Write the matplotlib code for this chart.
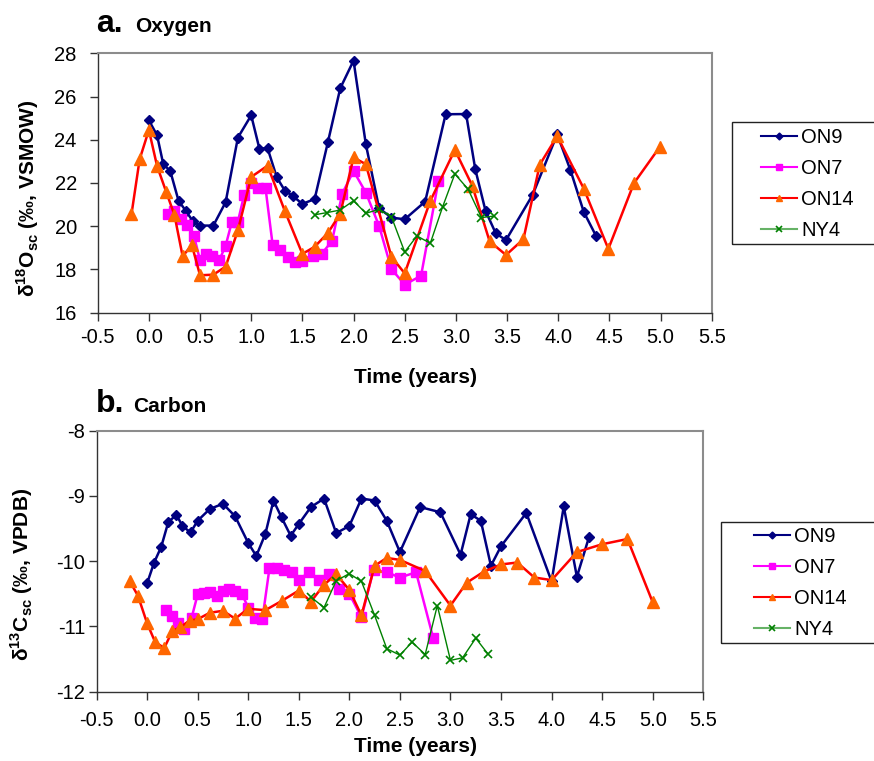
import matplotlib
matplotlib.use('Agg')
import matplotlib.pyplot as plt
from matplotlib.lines import Line2D
from matplotlib.patches import Rectangle

plt.rcParams['font.family'] = ['Liberation Sans', 'DejaVu Sans']
plt.rcParams['mathtext.fontset'] = 'custom'
plt.rcParams['mathtext.rm'] = 'Liberation Sans'
plt.rcParams['mathtext.bf'] = 'Liberation Sans:bold'
plt.rcParams['axes.unicode_minus'] = False

# ---- a. Oxygen ----
t_on9_o = [0.00, 0.08, 0.14, 0.21, 0.29, 0.36, 0.43, 0.50, 0.63, 0.75, 0.87, 1.00, 1.08,
           1.16, 1.25, 1.33, 1.41, 1.50, 1.62, 1.75, 1.87, 2.00, 2.12, 2.25, 2.37, 2.50,
           2.70, 2.90, 3.10, 3.19, 3.29, 3.39, 3.49, 3.75, 3.99, 4.12, 4.25, 4.37]
o_on9 = [24.90, 24.21, 22.89, 22.54, 21.18, 20.72, 20.23, 20.03, 20.03, 21.11, 24.10, 25.13,
         23.59, 23.61, 22.26, 21.64, 21.39, 21.03, 21.26, 23.90, 26.38, 27.66, 23.80, 20.83,
         20.40, 20.32, 21.14, 25.18, 25.19, 22.63, 20.71, 19.67, 19.36, 21.45, 24.25, 22.59,
         20.66, 19.55]

t_on7_o = [0.19, 0.25, 0.31, 0.37, 0.44, 0.50, 0.56, 0.62, 0.69, 0.75, 0.81, 0.87, 0.93,
           1.00, 1.07, 1.14, 1.21, 1.28, 1.36, 1.43, 1.50, 1.60, 1.69, 1.79, 1.89, 2.00,
           2.12, 2.25, 2.37, 2.50, 2.66, 2.83]
o_on7 = [20.58, 20.72, 20.35, 20.04, 19.56, 18.43, 18.70, 18.64, 18.45, 19.10, 20.18, 20.21,
         21.43, 22.01, 21.76, 21.76, 19.12, 18.89, 18.58, 18.36, 18.38, 18.61, 18.73, 19.32,
         21.51, 22.56, 21.56, 20.01, 18.02, 17.30, 17.71, 22.11]

t_on14_o = [-0.17, -0.09, 0.00, 0.08, 0.17, 0.25, 0.33, 0.42, 0.50, 0.63, 0.75, 0.87, 1.00,
            1.16, 1.33, 1.50, 1.62, 1.75, 1.87, 2.00, 2.12, 2.37, 2.50, 2.75, 2.99, 3.16,
            3.33, 3.49, 3.66, 3.82, 3.99, 4.25, 4.49, 4.74, 4.99]
o_on14 = [20.55, 23.10, 24.45, 22.79, 21.58, 20.52, 18.61, 19.13, 17.73, 17.76, 18.13, 19.81,
          22.28, 22.80, 20.69, 18.72, 19.05, 19.69, 20.58, 23.18, 22.87, 18.59, 17.82, 21.17,
          23.53, 21.88, 19.30, 18.67, 19.40, 22.85, 24.17, 21.74, 18.95, 21.99, 23.65]

t_ny4_o = [1.62, 1.74, 1.87, 2.00, 2.12, 2.25, 2.37, 2.50, 2.62, 2.75, 2.87, 2.99, 3.12,
           3.25, 3.37]
o_ny4 = [20.53, 20.63, 20.75, 21.18, 20.60, 20.78, 20.44, 18.81, 19.55, 19.21, 20.89, 22.42,
         21.71, 20.40, 20.47]

# ---- b. Carbon ----
t_on9_c = [0.00, 0.07, 0.14, 0.21, 0.29, 0.35, 0.43, 0.50, 0.62, 0.75, 0.87, 1.00, 1.08,
           1.17, 1.25, 1.33, 1.42, 1.50, 1.62, 1.75, 1.87, 2.00, 2.12, 2.25, 2.37, 2.50,
           2.70, 2.90, 3.10, 3.20, 3.30, 3.40, 3.50, 3.75, 4.00, 4.12, 4.25, 4.37]
c_on9 = [-10.34, -10.02, -9.78, -9.40, -9.29, -9.46, -9.56, -9.38, -9.20, -9.12, -9.31, -9.72,
         -9.92, -9.58, -9.07, -9.33, -9.61, -9.43, -9.17, -9.04, -9.57, -9.46, -9.04, -9.07,
         -9.38, -9.86, -9.17, -9.25, -9.90, -9.28, -9.38, -10.07, -9.77, -9.26, -10.31, -9.16,
         -10.24, -9.63]

t_on7_c = [0.19, 0.25, 0.31, 0.37, 0.44, 0.50, 0.56, 0.62, 0.69, 0.75, 0.81, 0.87, 0.94,
           1.00, 1.07, 1.14, 1.21, 1.28, 1.35, 1.43, 1.50, 1.60, 1.70, 1.80, 1.90, 2.00,
           2.12, 2.24, 2.37, 2.50, 2.66, 2.83]
c_on7 = [-10.75, -10.84, -10.94, -11.04, -10.87, -10.51, -10.49, -10.47, -10.53, -10.46,
         -10.43, -10.45, -10.51, -10.71, -10.87, -10.89, -10.11, -10.11, -10.14, -10.17,
         -10.29, -10.17, -10.29, -10.19, -10.42, -10.50, -10.86, -10.13, -10.17, -10.25,
         -10.17, -11.18]

t_on14_c = [-0.17, -0.09, 0.00, 0.08, 0.17, 0.25, 0.33, 0.42, 0.50, 0.62, 0.75, 0.87, 1.00,
            1.17, 1.33, 1.50, 1.62, 1.75, 1.87, 2.00, 2.12, 2.25, 2.37, 2.50, 2.75, 3.00,
            3.16, 3.33, 3.50, 3.66, 3.83, 4.00, 4.25, 4.50, 4.75, 5.00]
c_on14 = [-10.31, -10.53, -10.95, -11.24, -11.33, -11.07, -11.01, -10.91, -10.89, -10.79,
          -10.76, -10.88, -10.73, -10.75, -10.61, -10.45, -10.62, -10.36, -10.20, -10.44,
          -10.83, -10.07, -9.95, -9.98, -10.15, -10.68, -10.33, -10.16, -10.05, -10.02,
          -10.25, -10.29, -9.86, -9.74, -9.66, -10.63]

t_ny4_c = [1.62, 1.75, 1.87, 2.00, 2.12, 2.25, 2.37, 2.50, 2.62, 2.75, 2.87, 3.00, 3.12,
           3.25, 3.37]
c_ny4 = [-10.55, -10.71, -10.30, -10.19, -10.31, -10.83, -11.34, -11.44, -11.24, -11.43,
         -10.68, -11.52, -11.48, -11.18, -11.42]

names = ['ON9', 'ON7', 'ON14', 'NY4']
x_ticks = [-0.5, 0.0, 0.5, 1.0, 1.5, 2.0, 2.5, 3.0, 3.5, 4.0, 4.5, 5.0, 5.5]

W, H = 874, 761
fig = plt.figure(figsize=(W / 100, H / 100), dpi=100)


def box(l, t, r, b):
    return [l / W, 1 - b / H, (r - l) / W, (b - t) / H]


def draw(ax, series, ypad):
    (t9, y9), (t7, y7), (t14, y14), (tn, yn) = series
    ax.plot(t9, y9, color='#000080', lw=1.8, marker='D', ms=5.5, mfc='#000080', mec='#000080')
    ax.plot(t7, y7, color='#ff00ff', lw=1.8, marker='s', ms=7, mfc='#ff00ff', mec='#ff00ff')
    ax.plot(t14, y14, color='#ff0000', lw=1.8, marker='^', ms=8, mfc='#ff6600', mec='#ff6600')
    ax.plot(tn, yn, color='#008000', lw=1.0, marker='x', ms=5.5, mew=1.2, mec='#008000')
    ax.set_xlim(-0.5, 5.5)
    ax.set_xticks(x_ticks)
    ax.set_xticklabels(['%.1f' % v for v in x_ticks])
    for s in ['top', 'right']:
        ax.spines[s].set_color('#8c8c8c')
        ax.spines[s].set_linewidth(1.5)
    for s in ['left', 'bottom']:
        ax.spines[s].set_color('#333333')
        ax.spines[s].set_linewidth(1.0)
    ax.tick_params(axis='both', direction='out', length=6, width=1, color='#333333',
                   labelsize=14.5)
    ax.tick_params(axis='y', pad=ypad)


ax1 = fig.add_axes(box(97.7, 53.3, 711.7, 312.7))
draw(ax1, [(t_on9_o, o_on9), (t_on7_o, o_on7), (t_on14_o, o_on14), (t_ny4_o, o_ny4)], 9)
ax1.set_ylim(16, 28)
ax1.set_yticks([16, 18, 20, 22, 24, 26, 28])
ax1.tick_params(axis='x', pad=5)

ax2 = fig.add_axes(box(96.5, 430.7, 703.3, 691.7))
draw(ax2, [(t_on9_c, c_on9), (t_on7_c, c_on7), (t_on14_c, c_on14), (t_ny4_c, c_ny4)], 2)
ax2.set_ylim(-12, -8)
ax2.set_yticks([-12, -11, -10, -9, -8])
ax2.tick_params(axis='x', pad=8)

# titles and axis labels
fig.text(96 / W, 1 - 31.7 / H, 'a.', fontsize=23, fontweight='bold', va='baseline')
fig.text(135 / W, 1 - 31.7 / H, 'Oxygen', fontsize=15, fontweight='bold', va='baseline')
fig.text(96 / W, 1 - 412 / H, 'b.', fontsize=23, fontweight='bold', va='baseline')
fig.text(133 / W, 1 - 412 / H, 'Carbon', fontsize=15, fontweight='bold', va='baseline')

fig.text(415 / W, 1 - 377 / H, 'Time (years)', fontsize=15, fontweight='bold',
         ha='center', va='center')
fig.text(415 / W, 1 - 746 / H, 'Time (years)', fontsize=15, fontweight='bold',
         ha='center', va='center')
fig.text(28 / W, 1 - 198 / H, r'δ$^{\mathbf{18}}$O$_{\mathbf{sc}}$ (‰, VSMOW)',
         fontsize=15, fontweight='bold', rotation=90, ha='center', va='center')
fig.text(22 / W, 1 - 574 / H, r'δ$^{\mathbf{13}}$C$_{\mathbf{sc}}$ (‰, VPDB)',
         fontsize=15, fontweight='bold', rotation=90, ha='center', va='center')

# legends
handles = [
    Line2D([], [], color='#000080', lw=1.5, marker='D', ms=3.5, mfc='#000080', mec='#000080'),
    Line2D([], [], color='#ff00ff', lw=1.5, marker='s', ms=5, mfc='#ff00ff', mec='#ff00ff'),
    Line2D([], [], color='#ff0000', lw=1.5, marker='^', ms=5, mfc='#ff6600', mec='#ff6600'),
    Line2D([], [], color='#66b266', lw=1.5, marker='x', ms=4, mew=1.2, mec='#008000'),
]

for (l, t, r, b), (hx, hy) in [((731.5, 122.3, 890, 244), (761, 128)),
                                ((720.5, 521.7, 890, 642.7), (754, 527))]:
    fig.patches.append(Rectangle((l / W, 1 - b / H), (r - l) / W, (b - t) / H,
                                 transform=fig.transFigure, fill=False,
                                 edgecolor='#222222', lw=1.0))
    fig.legend(handles, names, loc='upper left', bbox_to_anchor=(hx / W, 1 - hy / H),
               frameon=False, fontsize=14.5, handlelength=1.8, handletextpad=0.2,
               labelspacing=0.6, borderpad=0, borderaxespad=0)

fig.savefig('out.png', dpi=100)
